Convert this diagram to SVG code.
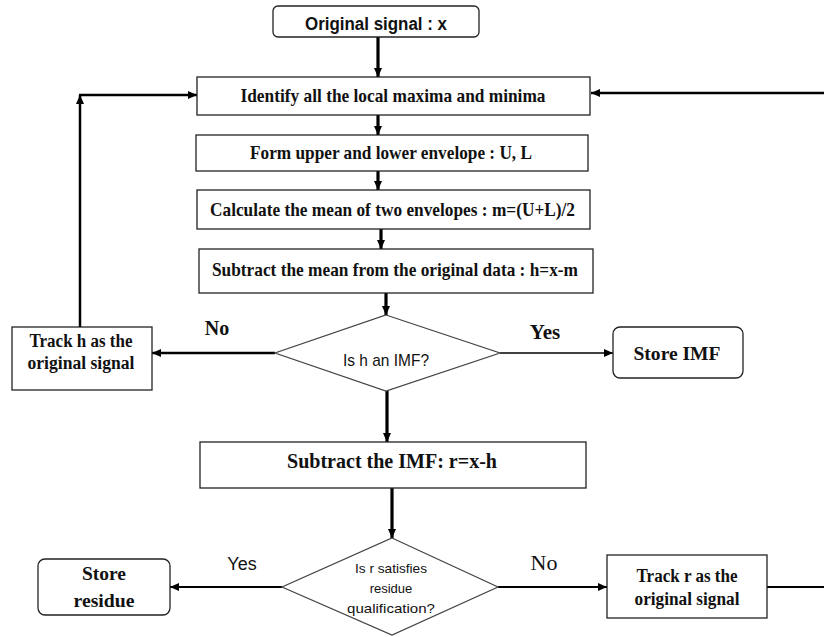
<svg xmlns="http://www.w3.org/2000/svg" width="824" height="637" viewBox="0 0 824 637">
<defs>
<marker id="ah" markerUnits="userSpaceOnUse" markerWidth="10" markerHeight="10" refX="9" refY="4" orient="auto">
<path d="M0,0 L9,4 L0,8 z" fill="#000"/>
</marker>
</defs>
<style>
.box{fill:#fff;stroke:#222;stroke-width:1.3}
.dia{fill:#fff;stroke:#444;stroke-width:1.2}
.t{font-family:"Liberation Serif","Times New Roman",serif;font-weight:bold;fill:#111;text-anchor:middle}
.s{font-family:"Liberation Sans",Arial,sans-serif;fill:#111;text-anchor:middle}
.c{fill:none;stroke:#000}
</style>
<rect width="824" height="637" fill="#fff"/>
<g id="connectors">
<line class="c" x1="378" y1="37" x2="378" y2="77" stroke-width="3.2" marker-end="url(#ah)"/>
<line class="c" x1="378" y1="115" x2="378" y2="135" stroke-width="3.2" marker-end="url(#ah)"/>
<line class="c" x1="378" y1="171" x2="378" y2="190" stroke-width="3.2" marker-end="url(#ah)"/>
<line class="c" x1="381" y1="229" x2="381" y2="249" stroke-width="3.2" marker-end="url(#ah)"/>
<line class="c" x1="386" y1="293" x2="386" y2="315" stroke-width="3.2" marker-end="url(#ah)"/>
<line class="c" x1="387" y1="391" x2="387" y2="442" stroke-width="3.2" marker-end="url(#ah)"/>
<line class="c" x1="392" y1="488" x2="392" y2="538" stroke-width="3.2" marker-end="url(#ah)"/>
<line class="c" x1="275" y1="353" x2="152" y2="353" stroke-width="2.5" marker-end="url(#ah)"/>
<line class="c" x1="80" y1="327" x2="80" y2="95" stroke-width="2.5" marker-end="url(#ah)"/>
<line class="c" x1="79" y1="95" x2="197" y2="95" stroke-width="2.5" marker-end="url(#ah)"/>
<line class="c" x1="824" y1="93" x2="591" y2="93" stroke-width="2.5" marker-end="url(#ah)"/>
<line class="c" x1="500" y1="353" x2="613" y2="353" stroke-width="1.6" marker-end="url(#ah)"/>
<line class="c" x1="282" y1="587" x2="170" y2="587" stroke-width="2.2" marker-end="url(#ah)"/>
<line class="c" x1="498" y1="587" x2="607" y2="587" stroke-width="2.2" marker-end="url(#ah)"/>
<line class="c" x1="767" y1="587" x2="824" y2="587" stroke-width="2.2"/>
</g>
<g id="original-signal">
<rect class="box" x="273" y="6" width="206" height="31" rx="5"/>
<text class="s" x="376" y="30" font-size="18" font-weight="bold" textLength="142" lengthAdjust="spacingAndGlyphs">Original signal : x</text>
</g>
<g id="identify">
<rect class="box" x="197" y="77" width="393" height="38"/>
<text class="t" x="393" y="102" font-size="19.5" textLength="305" lengthAdjust="spacingAndGlyphs">Identify all the local maxima and minima</text>
</g>
<g id="envelope">
<rect class="box" x="196" y="135" width="392" height="36"/>
<text class="t" x="391" y="159" font-size="19.5" textLength="282" lengthAdjust="spacingAndGlyphs">Form upper and lower envelope : U, L</text>
</g>
<g id="mean">
<rect class="box" x="197" y="190" width="393" height="39"/>
<text class="t" x="392.5" y="216" font-size="19.5" textLength="365" lengthAdjust="spacingAndGlyphs">Calculate the mean of two envelopes : m=(U+L)/2</text>
</g>
<g id="subtract-mean">
<rect class="box" x="199" y="249" width="394" height="44"/>
<text class="t" x="395" y="276" font-size="19.5" textLength="366" lengthAdjust="spacingAndGlyphs">Subtract the mean from the original data : h=x-m</text>
</g>
<g id="is-imf">
<polygon class="dia" points="386,315 500,353 386,391 275,353"/>
<text class="s" x="386" y="366" font-size="17" fill="#000" textLength="86" lengthAdjust="spacingAndGlyphs">Is h an IMF?</text>
</g>
<g id="track-h">
<rect class="box" x="12" y="327" width="140" height="63"/>
<text class="t" x="81" y="347" font-size="18" textLength="103" lengthAdjust="spacingAndGlyphs">Track h as the</text>
<text class="t" x="81" y="369" font-size="18" textLength="107" lengthAdjust="spacingAndGlyphs">original signal</text>
</g>
<g id="store-imf">
<rect class="box" x="613" y="327" width="130" height="51" rx="7"/>
<text class="t" x="677" y="360" font-size="19" textLength="87" lengthAdjust="spacingAndGlyphs">Store IMF</text>
</g>
<g id="labels-1">
<text class="t" x="217" y="335" font-size="20">No</text>
<text class="t" x="545" y="339" font-size="21">Yes</text>
</g>
<g id="subtract-imf">
<rect class="box" x="200" y="442" width="386" height="46"/>
<text class="t" x="392" y="468" font-size="21" textLength="210" lengthAdjust="spacingAndGlyphs">Subtract the IMF: r=x-h</text>
</g>
<g id="is-residue">
<polygon class="dia" points="392,538 498,587 392,635 282,587"/>
<text class="s" x="391" y="573" font-size="13" fill="#000" textLength="72" lengthAdjust="spacingAndGlyphs">Is r satisfies</text>
<text class="s" x="391" y="593" font-size="13" fill="#000">residue</text>
<text class="s" x="391" y="613" font-size="13" fill="#000" textLength="88" lengthAdjust="spacingAndGlyphs">qualification?</text>
</g>
<g id="store-residue">
<rect class="box" x="38" y="559" width="132" height="56" rx="7"/>
<text class="t" x="104" y="580" font-size="19" textLength="44" lengthAdjust="spacingAndGlyphs">Store</text>
<text class="t" x="104" y="607" font-size="19" textLength="61" lengthAdjust="spacingAndGlyphs">residue</text>
</g>
<g id="track-r">
<rect class="box" x="607" y="555" width="160" height="63"/>
<text class="t" x="687" y="582" font-size="18" textLength="101" lengthAdjust="spacingAndGlyphs">Track r as the</text>
<text class="t" x="687" y="605" font-size="18" textLength="105" lengthAdjust="spacingAndGlyphs">original signal</text>
</g>
<g id="labels-2">
<text class="s" x="242" y="570" font-size="18">Yes</text>
<text x="544" y="570" font-size="22" font-family="Liberation Serif, serif" fill="#111" text-anchor="middle">No</text>
</g>
</svg>
